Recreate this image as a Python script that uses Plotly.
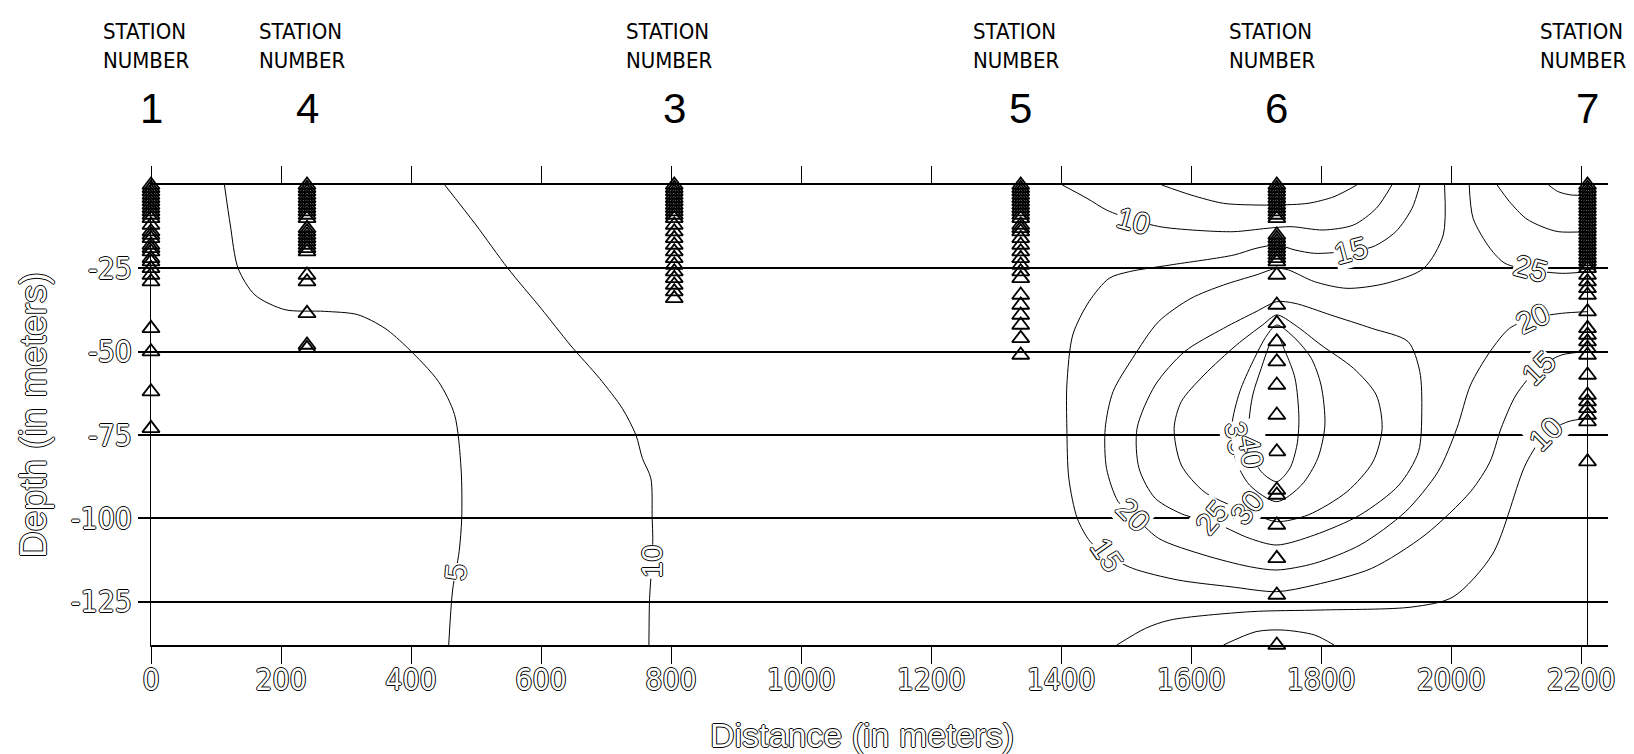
import plotly.graph_objects as go

# ---------------- data ----------------
STATION_NAMES = ["1", "4", "3", "5", "6", "7"]
STATION_X = [0, 240, 805, 1338, 1732, 2210]

ST1_DEPTH = [0, -1, -2, -3, -4, -5, -6, -7, -8, -9, -10, -12, -14, -15, -16, -18, -19, -20, -22, -23, -25, -27, -29, -43, -50, -62, -73]
ST4_DEPTH = [0, -1, -2, -3, -4, -5, -6, -7, -8, -9, -10, -13, -14, -15, -16, -17, -18, -19, -20, -27, -29, -38.5, -48, -49]
ST3_DEPTH = [0, -1, -2, -3, -4, -5, -6, -7, -8, -9, -10, -12, -14, -16, -18, -20, -22, -24, -26, -28, -30, -32, -34]
ST5_DEPTH = [0, -1, -2, -3, -4, -5, -6, -7, -8, -9, -10, -12, -13, -14, -16, -18, -20, -22, -24, -26, -28, -33, -36, -39, -42, -46, -51]
ST6_DEPTH = [0, -1, -2, -3, -4, -5, -6, -7, -8, -9, -10, -15, -16, -17, -18, -19, -20, -21, -22, -23, -27, -36, -41.5, -47, -53, -60, -69, -80, -91.5, -93, -102, -112, -123, -138]
ST7_DEPTH = [0, -1, -2, -3, -4, -5, -6, -7, -8, -9, -10, -11, -12, -13, -14, -15, -16, -17, -18, -19, -20, -21, -22, -23, -24, -25, -27, -29, -31, -33, -38, -43, -45, -47, -49, -51, -57, -63, -65, -67, -69, -71, -83]

X_TICKS = [0, 200, 400, 600, 800, 1000, 1200, 1400, 1600, 1800, 2000, 2200]
Y_TICKS = [-25, -50, -75, -100, -125]
Y_TICK_TEXT = ["-25", "-50", "-75", "-100", "-125"]

# contour lines (distance m, depth m)
C5_LEFT_X = [113, 122, 134, 160, 206, 267, 318, 360, 395, 442, 467, 477, 478, 474, 464, 458]
C5_LEFT_Y = [0, -12, -25, -33, -37.4, -37.9, -38.9, -43, -48.9, -58.9, -68.9, -85, -100, -110, -121.5, -138]
C10_LEFT_X = [452, 500, 549, 600, 645, 690, 725, 746, 756, 769, 771, 772, 769, 767, 766]
C10_LEFT_Y = [0, -12, -25, -37, -48, -58, -67, -75, -82, -88, -100, -106, -118, -124, -138]

C5_TOP_X = [1555, 1600, 1650, 1700, 1732, 1780, 1820, 1855]
C5_TOP_Y = [0, -3, -5.5, -6, -6, -5.5, -3.5, 0]
C10_TOP_X = [1402, 1440, 1470, 1511, 1555, 1617, 1666, 1717, 1754, 1803, 1850, 1885, 1909]
C10_TOP_Y = [0, -4, -7.5, -10.5, -12.6, -13.7, -14, -13, -12.5, -13.5, -12, -7, 0]
C15_X = [1952, 1940, 1915, 1880, 1835, 1790, 1760, 1732, 1700, 1666, 1568, 1505, 1474, 1443, 1418, 1409, 1409, 1412, 1425, 1445, 1471, 1510, 1580, 1660, 1732, 1790, 1878, 1960, 2030, 2060, 2077, 2100, 2134, 2170, 2210]
C15_Y = [0, -7, -14, -18.5, -20, -20.5, -19.5, -18, -19, -21, -24, -26, -28, -35, -45, -60, -73, -88, -100, -107, -111, -115, -118.5, -120.5, -122, -120, -115, -105, -92, -83, -73, -63, -55, -51, -50]
C20_X = [1990, 1988, 1958, 1900, 1840, 1790, 1750, 1732, 1700, 1650, 1600, 1550, 1510, 1480, 1468, 1470, 1488, 1511, 1550, 1620, 1690, 1732, 1790, 1860, 1930, 1980, 2009, 2030, 2060, 2090, 2125, 2170, 2210]
C20_Y = [0, -15, -25, -29.5, -31, -29, -25.5, -25, -27, -30, -34, -41, -52, -62, -73, -85, -95, -99, -106, -111, -114.5, -115.5, -113.5, -108, -98, -86, -73, -60, -50, -43, -40, -38.5, -38]
C25_X = [1732, 1700, 1650, 1590, 1545, 1517, 1520, 1545, 1590, 1632, 1690, 1732, 1790, 1860, 1920, 1950, 1955, 1952, 1934, 1878, 1815, 1760, 1732]
C25_Y = [-35, -38, -43, -50, -60, -73, -85, -94, -99, -101, -106, -108, -105, -99, -90, -80, -68, -56, -47, -43, -39, -35.5, -35]
C30_X = [1732, 1710, 1670, 1620, 1585, 1574, 1585, 1620, 1660, 1700, 1732, 1780, 1840, 1880, 1894, 1885, 1850, 1800, 1760, 1732]
C30_Y = [-39, -42, -48, -57, -65, -73, -84, -92, -96, -99, -101, -99, -92, -83, -73, -63, -55, -48, -42, -39]
C35_X = [1732, 1717, 1695, 1675, 1663, 1668, 1690, 1732, 1770, 1795, 1806, 1800, 1785, 1760, 1732]
C35_Y = [-42, -45, -53, -62, -72, -82, -90, -95, -90, -82, -72, -60, -52, -46, -42]
C40_X = [1732, 1723, 1708, 1695, 1689, 1693, 1708, 1732, 1752, 1763, 1766, 1760, 1745, 1732]
C40_Y = [-45, -47, -55, -63, -72, -80, -86, -89, -85, -78, -70, -58, -50, -45]
C25_TOPR_X = [2028, 2034, 2060, 2083, 2123, 2171, 2210]
C25_TOPR_Y = [0, -10, -19, -23.5, -25.5, -26.5, -26]
C30_TOPR_X = [2071, 2090, 2115, 2140, 2165, 2210]
C30_TOPR_Y = [0, -5, -10, -12.5, -14, -14]
C35_TOPR_X = [2150, 2165, 2185, 2210]
C35_TOPR_Y = [0, -2, -3, -3]
C10_BOT_X = [1486, 1530, 1568, 1692, 1800, 1940, 2003, 2064, 2115, 2146, 2180, 2210]
C10_BOT_Y = [-138, -133, -130.5, -128, -127.5, -126.6, -123.6, -110.7, -83.7, -74.6, -71, -70]
C5_BOT_X = [1650, 1700, 1740, 1790, 1820]
C5_BOT_Y = [-138, -134, -133.5, -135, -138]

LABEL_TEXT = ["5", "10", "10", "15", "25", "20", "15", "10", "20", "15", "25", "30", "35", "40"]
LABEL_X = [469, 770, 1511, 1845, 2123, 2125, 2134, 2146, 1511, 1471, 1632, 1686, 1672, 1692]
LABEL_Y = [-116, -113, -10.5, -19.5, -25, -40, -55, -74.6, -98.7, -110.7, -99.6, -96.6, -76, -80]
LABEL_ANGLE = [-85, -90, 15, -15, 15, -25, -45, -45, 45, 55, -50, -50, 80, 80]

# ---------------- figure ----------------
OUTLINE = "1px 0 0 #000, -1px 0 0 #000, 0 1px 0 #000, 0 -1px 0 #000"
NARROW = "Liberation Sans Narrow, DejaVu Sans Condensed, Arial Narrow, sans-serif"
SANS = "Liberation Sans, Arial, sans-serif"

fig = go.Figure()

contours = [
    (C5_LEFT_X, C5_LEFT_Y), (C10_LEFT_X, C10_LEFT_Y),
    (C5_TOP_X, C5_TOP_Y), (C10_TOP_X, C10_TOP_Y), (C15_X, C15_Y), (C20_X, C20_Y),
    (C25_X, C25_Y), (C30_X, C30_Y), (C35_X, C35_Y), (C40_X, C40_Y),
    (C25_TOPR_X, C25_TOPR_Y), (C30_TOPR_X, C30_TOPR_Y), (C35_TOPR_X, C35_TOPR_Y),
    (C10_BOT_X, C10_BOT_Y), (C5_BOT_X, C5_BOT_Y),
]
for cx, cy in contours:
    fig.add_trace(go.Scatter(x=cx, y=cy, mode="lines",
                             line=dict(color="black", width=1, shape="spline", smoothing=0.8),
                             hoverinfo="skip", showlegend=False))

station_depths = [ST1_DEPTH, ST4_DEPTH, ST3_DEPTH, ST5_DEPTH, ST6_DEPTH, ST7_DEPTH]
for sx, depths in zip(STATION_X, station_depths):
    fig.add_trace(go.Scatter(x=[sx] * len(depths), y=depths, mode="markers",
                             marker=dict(symbol="triangle-up-open", size=15, color="black",
                                         line=dict(width=1.8, color="black")),
                             cliponaxis=False, showlegend=False))

# right data boundary at the last station
fig.add_shape(type="line", x0=STATION_X[-1], x1=STATION_X[-1], y0=0, y1=-138,
              xref="x", yref="y", line=dict(color="black", width=1))

for t, lx, ly, ang in zip(LABEL_TEXT, LABEL_X, LABEL_Y, LABEL_ANGLE):
    fig.add_annotation(x=lx, y=ly, text=t, showarrow=False, textangle=ang,
                       bgcolor="white", borderpad=0,
                       font=dict(family=SANS, size=30, color="white", shadow=OUTLINE))

for name, sx in zip(STATION_NAMES, STATION_X):
    fig.add_annotation(x=sx, y=1.302, xref="x", yref="paper", yanchor="middle",
                       xshift=-5, text="STATION<br>NUMBER", showarrow=False, align="left",
                       font=dict(family=NARROW, size=22, color="black"))
    fig.add_annotation(x=sx, y=1.167, xref="x", yref="paper", yanchor="middle",
                       text=name, showarrow=False,
                       font=dict(family=SANS, size=42, color="black"))

# x axis title
fig.add_annotation(x=0.488, y=-0.196, xref="paper", yref="paper", yanchor="middle",
                   text="Distance (in meters)", showarrow=False,
                   font=dict(family=SANS, size=34, color="white", shadow=OUTLINE))

fig.update_layout(
    width=1634, height=754,
    margin=dict(l=143, r=34, t=177, b=117),
    paper_bgcolor="white", plot_bgcolor="white",
    showlegend=False,
)
fig.update_xaxes(range=[0, 2241.5], tickvals=X_TICKS, ticks="outside", ticklen=17,
                 tickwidth=1, tickcolor="black", showline=True, linecolor="black",
                 linewidth=1.5, mirror="ticks", showgrid=False, zeroline=False,
                 ticklabelstandoff=-10,
                 tickfont=dict(family=NARROW, size=30, color="white", shadow=OUTLINE))
fig.update_yaxes(range=[-138, 0], tickvals=Y_TICKS, ticktext=Y_TICK_TEXT,
                 ticks="outside", ticklen=12,
                 tickwidth=1.5, tickcolor="black", showline=True, linecolor="black",
                 linewidth=1, showgrid=True, gridcolor="black", gridwidth=1.5,
                 zeroline=False,
                 tickfont=dict(family=NARROW, size=30, color="white", shadow=OUTLINE),
                 title=dict(text="Depth (in meters)", standoff=12,
                            font=dict(family=SANS, size=37, color="white", shadow=OUTLINE)))

fig.write_html("out.html")
